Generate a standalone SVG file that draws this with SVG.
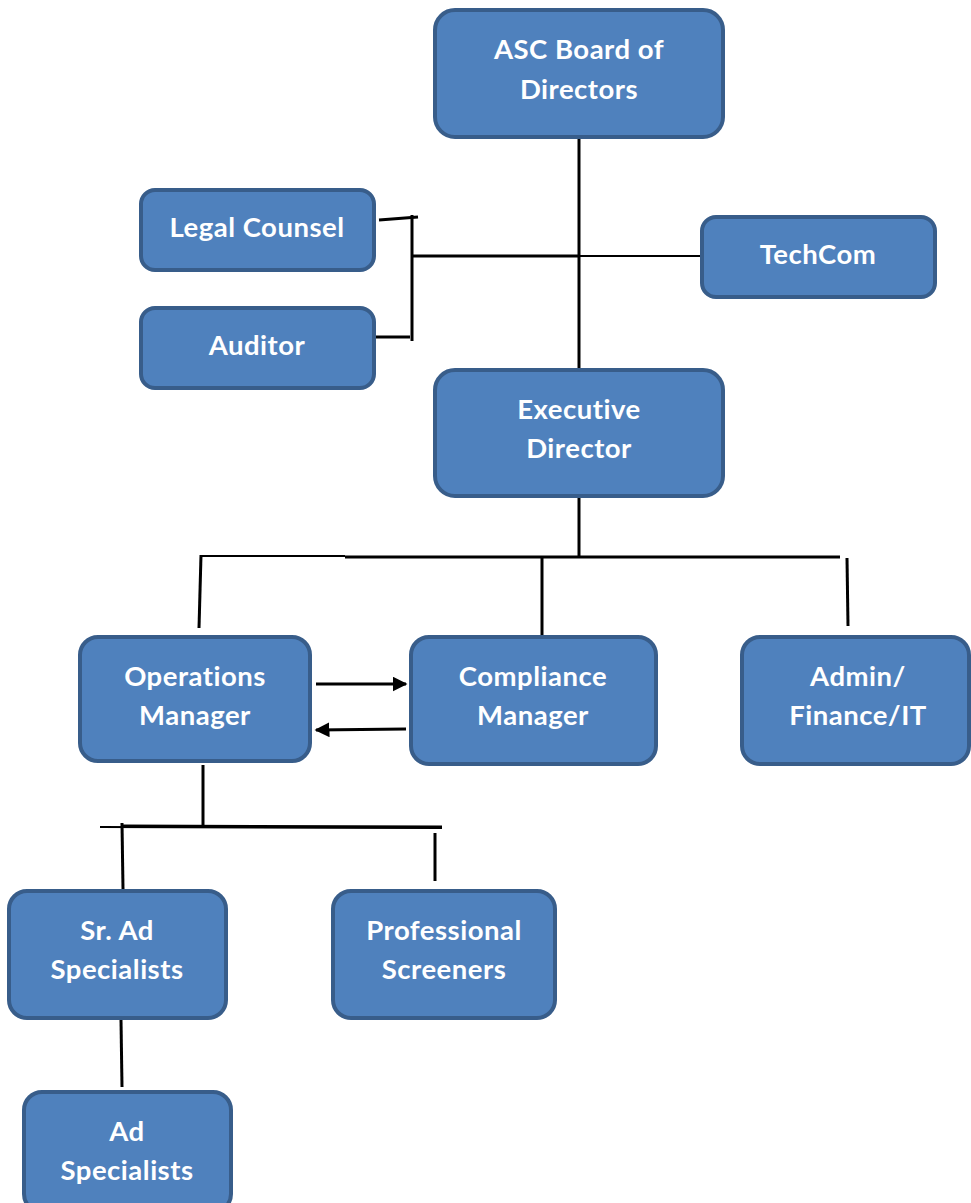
<svg xmlns="http://www.w3.org/2000/svg" width="971" height="1203" viewBox="0 0 971 1203">
<style>
.box{fill:#4f81bd;stroke:#385d8a;stroke-width:4}
.t{font-family:Lato,"Liberation Sans",sans-serif;font-weight:bold;font-size:27.5px;letter-spacing:0.5px;fill:#fff;text-anchor:middle;dominant-baseline:central}
.c{stroke:#000;stroke-width:3;fill:none}
.th{stroke:#000;stroke-width:2;fill:none}
</style>
<defs>
<marker id="ah" viewBox="0 0 10 10" refX="9" refY="5" markerWidth="5" markerHeight="5" orient="auto" markerUnits="strokeWidth"><path d="M0,0 L10,5 L0,10 z" fill="#000"/></marker>
</defs>
<rect width="971" height="1203" fill="#fff"/>
<g id="connectors">
<line class="c" x1="579" y1="138" x2="579" y2="369"/>
<line class="c" x1="413" y1="256" x2="579" y2="256"/>
<line class="th" x1="579" y1="256" x2="701" y2="256"/>
<line class="c" x1="412" y1="215" x2="412" y2="341"/>
<line class="c" x1="379" y1="220" x2="418" y2="217"/>
<line class="c" x1="376" y1="337" x2="410" y2="337"/>
<line class="c" x1="579" y1="497" x2="579" y2="557"/>
<line class="th" x1="201" y1="556" x2="345" y2="556"/>
<line class="c" x1="345" y1="557" x2="840" y2="557"/>
<line class="c" x1="201" y1="555" x2="199" y2="628"/>
<line class="c" x1="542" y1="557" x2="542" y2="635"/>
<line class="c" x1="847" y1="558" x2="848" y2="626"/>
<line class="c" x1="316" y1="684" x2="406" y2="684" marker-end="url(#ah)"/>
<line class="c" x1="406" y1="729" x2="316" y2="730" marker-end="url(#ah)"/>
<line class="c" x1="203" y1="765" x2="203" y2="826"/>
<line class="th" x1="100" y1="827" x2="442" y2="828"/>
<line class="c" x1="122" y1="826" x2="442" y2="827"/>
<line class="c" x1="122" y1="823" x2="123" y2="889"/>
<line class="c" x1="435" y1="833" x2="435" y2="881"/>
<line class="c" x1="121" y1="1020" x2="122" y2="1087"/>
</g>
<g id="board"><rect class="box" x="435" y="10" width="288" height="127" rx="20"/><text class="t" x="579" y="48">ASC Board of</text><text class="t" x="579" y="88">Directors</text></g>
<g id="legal"><rect class="box" x="141" y="190" width="233" height="80" rx="14"/><text class="t" x="257" y="226">Legal Counsel</text></g>
<g id="auditor"><rect class="box" x="141" y="308" width="233" height="80" rx="14"/><text class="t" x="257" y="344">Auditor</text></g>
<g id="techcom"><rect class="box" x="702" y="217" width="233" height="80" rx="14"/><text class="t" x="818" y="253">TechCom</text></g>
<g id="exec"><rect class="box" x="435" y="370" width="288" height="126" rx="20"/><text class="t" x="579" y="408">Executive</text><text class="t" x="579" y="447">Director</text></g>
<g id="ops"><rect class="box" x="80" y="637" width="230" height="124" rx="18"/><text class="t" x="195" y="675">Operations</text><text class="t" x="195" y="714">Manager</text></g>
<g id="compliance"><rect class="box" x="411" y="637" width="245" height="127" rx="18"/><text class="t" x="533" y="675">Compliance</text><text class="t" x="533" y="714">Manager</text></g>
<g id="admin"><rect class="box" x="742" y="637" width="227" height="127" rx="18"/><text class="t" x="858" y="675">Admin/</text><text class="t" x="858" y="714">Finance/IT</text></g>
<g id="srad"><rect class="box" x="9" y="891" width="217" height="127" rx="18"/><text class="t" x="117" y="929">Sr. Ad</text><text class="t" x="117" y="968">Specialists</text></g>
<g id="screeners"><rect class="box" x="333" y="891" width="222" height="127" rx="18"/><text class="t" x="444" y="929">Professional</text><text class="t" x="444" y="968">Screeners</text></g>
<g id="adspec"><rect class="box" x="24" y="1092" width="207" height="120" rx="18"/><text class="t" x="127" y="1130">Ad</text><text class="t" x="127" y="1169">Specialists</text></g>
</svg>
